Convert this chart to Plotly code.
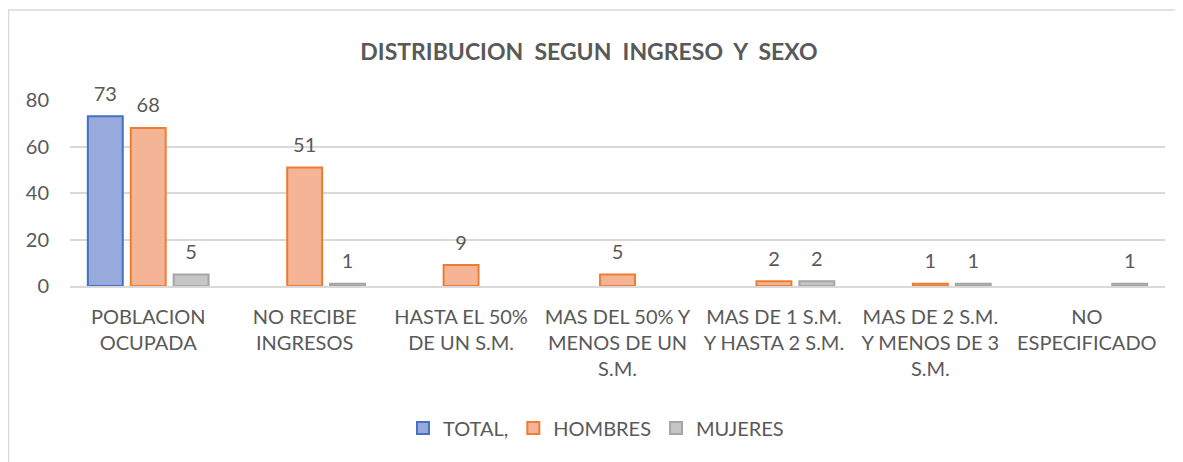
import plotly.graph_objects as go

categories = [
    "POBLACION<br>OCUPADA",
    "NO RECIBE<br>INGRESOS",
    "HASTA EL 50%<br>DE UN S.M.",
    "MAS DEL 50% Y<br>MENOS DE UN<br>S.M.",
    "MAS DE 1 S.M.<br>Y HASTA 2 S.M.",
    "MAS DE 2 S.M.<br>Y MENOS DE 3<br>S.M.",
    "NO<br>ESPECIFICADO",
]
total = [73, None, None, None, None, None, None]
hombres = [68, 51, 9, 5, 2, 1, None]
mujeres = [5, 1, None, None, 2, 1, 1]

series = [
    ("TOTAL,", total, "#97AADB", "#4472C4"),
    ("HOMBRES", hombres, "#F5B495", "#ED7D31"),
    ("MUJERES", mujeres, "#C6C6C6", "#A5A5A5"),
]

FONT = "Lato"
GREY = "#595959"

# page body adds ~8px offset, so margins are shifted to compensate
L, R, T, B = 62, 26, 92, 184
W, H = 1183, 462
PW, PH = W - L - R, H - T - B

fig = go.Figure()
for name, vals, fill, edge in series:
    # small second line lifts the value label off the bar top
    labels = [f"<span style='font-size:20px'>{v}</span><br>&nbsp;" if v is not None else "" for v in vals]
    fig.add_trace(go.Bar(
        name=name,
        x=categories,
        y=vals,
        marker=dict(color=fill, line=dict(color=edge, width=2)),
        text=labels,
        textposition="outside",
        textfont=dict(size=8, color=GREY, family=FONT),
        constraintext="none",
        cliponaxis=False,
    ))

fig.update_layout(
    width=W,
    height=H,
    barmode="group",
    bargap=0.177,
    bargroupgap=0.186,
    uniformtext=dict(mode=False),
    plot_bgcolor="white",
    paper_bgcolor="white",
    font=dict(family=FONT, size=20, color=GREY),
    title=dict(
        text="<b>DISTRIBUCION  SEGUN  INGRESO  Y  SEXO</b>",
        x=(589 - 8 - L) / PW, xref="paper", xanchor="center",
        y=1 - 44 / H, yanchor="middle",
        font=dict(size=23, color=GREY, family=FONT),
    ),
    margin=dict(l=L, r=R, t=T, b=B, autoexpand=False),
    legend=dict(
        orientation="h", x=(596 - 8 - L) / PW, xanchor="center",
        y=(H - B - 420) / PH, yanchor="middle",
        font=dict(size=20, color=GREY), traceorder="normal",
    ),
    showlegend=True,
    shapes=[dict(
        type="rect", xref="paper", yref="paper",
        x0=(0.5 - L) / PW, x1=(W + 20 - L) / PW,
        y0=(H - B - (H + 20)) / PH, y1=(H - B - 2) / PH,
        line=dict(color="#D9D9D9", width=1.5), fillcolor="rgba(0,0,0,0)",
    )],
)

fig.update_yaxes(
    range=[0, 80], dtick=20, showgrid=True, gridcolor="#D9D9D9", gridwidth=1.5,
    zeroline=False, showline=False, ticklabelstandoff=20,
    tickfont=dict(size=20, color=GREY),
)
fig.update_xaxes(
    showline=True, linecolor="#D9D9D9", linewidth=1.5, ticklabelstandoff=12,
    tickfont=dict(size=20, color=GREY),
)

fig.write_html("out.html")
